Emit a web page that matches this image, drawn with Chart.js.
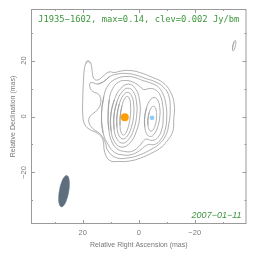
<!DOCTYPE html>
<html>
<head>
<meta charset="utf-8">
<script src="https://cdn.jsdelivr.net/npm/chart.js@4.4.1/dist/chart.umd.min.js"></script>
<style>
  html, body { margin: 0; padding: 0; background: #fff; }
  canvas { display: block; }
</style>
</head>
<body>
<canvas id="map" width="264" height="262"></canvas>
<script>
const sourceName = 'J1935\u22121602';
const peakFlux = '0.14';
const contourLevel = '0.002';
const obsDate = '2007\u221201\u221211';

const xRange = [-38.5, 38.5];
const yRange = [-38.4, 38.4];
const labelledTicks = [-20, 0, 20];

// contours as [RA offset, Dec offset] in mas, outermost first
const envelope1 = [
  [18.21, 19.82], [17.14, 18.93], [16.61, 16.07], [16.07, 13.57], [14.64, 13.04],
  [12.86, 14.29], [10.71, 15.89], [8.57, 15.71], [6.43, 16.25], [3.21, 16.43],
  [-0.36, 15.71], [-5.0, 13.93], [-8.57, 12.14], [-11.25, 8.93], [-12.68, 4.29],
  [-12.5, -1.07], [-12.14, -5.36], [-10.0, -8.93], [-7.5, -11.43], [-4.29, -13.21],
  [-0.71, -14.82], [3.21, -15.89], [7.14, -16.07], [10.36, -15.71], [12.14, -12.86],
  [12.86, -8.21], [14.64, -6.07], [17.5, -4.64], [19.29, -2.86], [20.0, 0.71],
  [20.0, 6.07], [19.82, 11.43], [19.46, 16.79], [18.93, 18.93]
];
const envelope2 = [
  [12.5, 12.5], [10.36, 14.29], [7.5, 15.18], [4.29, 15.36], [1.07, 14.82],
  [-2.5, 13.57], [-6.07, 12.32], [-8.93, 10.36], [-10.71, 7.5], [-11.25, 2.5],
  [-10.71, -2.86], [-9.64, -6.79], [-7.14, -10.0], [-4.29, -11.79], [-0.71, -13.57],
  [3.93, -14.82], [8.21, -14.64], [11.07, -12.14], [11.96, -9.29], [13.57, -6.43],
  [16.43, -4.29], [17.86, -1.79], [17.14, 0.36], [15.0, 2.14], [13.57, 5.0],
  [14.29, 7.86], [16.43, 8.93], [17.5, 10.71], [17.14, 12.14], [14.64, 11.61]
];
const bridge3 = [
  [13.32, 0], [12.5, 7.14], [10.71, 11.43], [7.86, 13.57], [4.64, 14.29],
  [1.43, 13.93], [-1.43, 12.86], [-4.29, 11.96], [-6.79, 10.71], [-8.57, 8.21],
  [-9.64, 4.64], [-10.0, 0], [-9.46, -4.64], [-7.86, -8.21], [-5.71, -10.0],
  [-3.57, -10.0], [-2.14, -10.71], [-0.36, -12.14], [2.5, -13.57], [5.36, -13.75],
  [8.57, -12.86], [10.71, -10.36], [12.68, -6.07]
];
const bridge4 = [
  [10.96, 0], [10.54, 6.07], [9.29, 10.0], [7.14, 12.32], [4.64, 12.86],
  [2.14, 12.32], [0, 11.07], [-1.79, 9.64], [-3.93, 10.0], [-6.07, 9.46],
  [-7.68, 7.5], [-8.57, 3.93], [-8.75, -0.36], [-8.21, -4.64], [-6.79, -7.5],
  [-4.82, -8.57], [-2.86, -8.04], [-1.79, -8.57], [-0.36, -10.36], [2.14, -12.32],
  [5.0, -12.5], [7.86, -11.43], [9.82, -8.57], [10.71, -4.64]
];
const core5 = [
  [10.0, 0.3], [8.74, 5.93], [6.43, 10.04], [3.68, 11.55], [1.23, 10.04], [-0.26, 5.93],
  [-0.4, 0.3], [0.86, -5.33], [3.17, -9.44], [5.93, -10.95], [8.37, -9.44], [9.86, -5.33]
];
const core6 = [
  [8.84, 0.3], [7.81, 5.21], [5.97, 8.8], [3.82, 10.12], [1.93, 8.8], [0.81, 5.21],
  [0.76, 0.3], [1.79, -4.61], [3.63, -8.2], [5.78, -9.52], [7.67, -8.2], [8.79, -4.61]
];
const core7 = [
  [7.76, 0.3], [6.94, 4.46], [5.56, 7.51], [3.97, 8.62], [2.6, 7.51], [1.82, 4.46],
  [1.84, 0.3], [2.66, -3.86], [4.04, -6.91], [5.63, -8.02], [7.0, -6.91], [7.78, -3.86]
];
const core8 = [
  [6.59, 0.3], [6.01, 3.75], [5.1, 6.27], [4.11, 7.19], [3.3, 6.27], [2.91, 3.75],
  [3.01, 0.3], [3.59, -3.15], [4.5, -5.67], [5.49, -6.59], [6.3, -5.67], [6.69, -3.15]
];
const jet5 = [
  [-2.14, -0.18], [-2.85, 3.3], [-4.08, 5.85], [-5.52, 6.78], [-6.76, 5.85], [-7.49, 3.3],
  [-7.5, -0.18], [-6.79, -3.66], [-5.56, -6.21], [-4.12, -7.14], [-2.88, -6.21], [-2.15, -3.66]
];
const jet6 = [
  [-3.32, -0.79], [-3.74, 1.44], [-4.46, 3.07], [-5.27, 3.67], [-5.96, 3.07], [-6.34, 1.44],
  [-6.32, -0.79], [-5.9, -3.02], [-5.18, -4.65], [-4.37, -5.25], [-3.68, -4.65], [-3.3, -3.02]
];
const isolatedBlob = [
  [-33.65, 25.3], [-34.05, 26.64], [-34.48, 27.2], [-34.69, 26.64],
  [-34.55, 25.3], [-34.15, 23.96], [-33.72, 23.4], [-33.51, 23.96]
];

// restoring beam outline (bmaj 11.3, bmin 3.3 mas, pa -10 deg)
const beamOutline = [
  [25.72, -21.13], [26.66, -21.74], [27.62, -23.67], [28.33, -26.41], [28.6, -29.23], [28.36, -31.38],
  [27.68, -32.27], [26.74, -31.66], [25.78, -29.73], [25.07, -26.99], [24.8, -24.17], [25.04, -22.02]
];

const corePosition = [5.0, -0.24];
const jetPosition = [-4.75, -0.46];

const contours = [envelope1, envelope2, bridge3, bridge4, core5, core6, core7, core8, jet5, jet6, isolatedBlob];

// repeat neighbours at both ends so the smoothed path closes without a corner
const closedLoop = (pts) => {
  const loop = [pts[pts.length - 1], ...pts, pts[0], pts[1]];
  return loop.map(([x, y]) => ({ x, y }));
};

const minus = (v) => (v < 0 ? '\u2212' + Math.abs(v) : String(v));

const datasets = contours.map((c) => ({
  data: closedLoop(c),
  showLine: true,
  tension: 0.45,
  borderColor: '#9b9b9b',
  borderWidth: 0.8,
  pointRadius: 0,
  fill: false,
  order: 2
}));

datasets.push({
  data: closedLoop(beamOutline),
  showLine: true,
  tension: 0.45,
  borderColor: '#5f6e7f',
  backgroundColor: '#5f6e7f',
  borderWidth: 0.6,
  pointRadius: 0,
  fill: 'shape',
  order: 1
});

datasets.push({
  data: [{ x: corePosition[0], y: corePosition[1] }],
  pointRadius: 4,
  pointBorderWidth: 0,
  pointBackgroundColor: '#ff9c00',
  order: 0
});

datasets.push({
  data: [{ x: jetPosition[0], y: jetPosition[1] }],
  pointRadius: 2.4,
  pointBorderWidth: 0,
  pointBackgroundColor: '#8ecdf6',
  order: 0
});

const frame = {
  id: 'frame',
  afterDraw(chart) {
    const { ctx, chartArea: a, scales: { x, y } } = chart;
    ctx.save();
    ctx.strokeStyle = '#9a9a9a';
    ctx.lineWidth = 1;
    ctx.strokeRect(a.left + 0.5, a.top + 0.5, a.right - a.left - 1, a.bottom - a.top - 1);

    ctx.beginPath();
    for (const t of x.ticks) {
      const len = labelledTicks.includes(t.value) ? 4 : 2;
      const px = Math.round(x.getPixelForValue(t.value)) + 0.5;
      ctx.moveTo(px, a.bottom); ctx.lineTo(px, a.bottom - len);
      ctx.moveTo(px, a.top); ctx.lineTo(px, a.top + len);
    }
    for (const t of y.ticks) {
      const len = labelledTicks.includes(t.value) ? 4 : 2;
      const py = Math.round(y.getPixelForValue(t.value)) + 0.5;
      ctx.moveTo(a.left, py); ctx.lineTo(a.left + len, py);
      ctx.moveTo(a.right, py); ctx.lineTo(a.right - len, py);
    }
    ctx.stroke();

    // rotated y tick labels
    ctx.fillStyle = '#7a7a7a';
    ctx.font = '7.5px "Liberation Sans"';
    ctx.textAlign = 'center';
    ctx.textBaseline = 'middle';
    for (const t of y.ticks) {
      if (!labelledTicks.includes(t.value)) continue;
      ctx.save();
      ctx.translate(a.left - 7, y.getPixelForValue(t.value));
      ctx.rotate(-Math.PI / 2);
      ctx.fillText(minus(t.value), 0, 0);
      ctx.restore();
    }

    ctx.fillStyle = '#3d963d';
    ctx.font = '8.8px "DejaVu Sans Mono"';
    ctx.fillText(`${sourceName}, max=${peakFlux}, clev=${contourLevel} Jy/bm`, (a.left + a.right) / 2, a.top + 11);
    ctx.font = 'italic 9px "Liberation Sans"';
    ctx.textAlign = 'right';
    ctx.fillText(obsDate, a.right - 5, a.bottom - 9);
    ctx.restore();
  }
};

const tickFont = { family: 'Liberation Sans', size: 7.5 };
const titleFont = { family: 'Liberation Sans', size: 7 };

new Chart(document.getElementById('map'), {
  type: 'scatter',
  data: { datasets },
  options: {
    responsive: false,
    animation: false,
    events: [],
    layout: { padding: { top: 9, right: 17.5, left: 0, bottom: 0 } },
    plugins: { legend: { display: false }, tooltip: { enabled: false } },
    scales: {
      x: {
        type: 'linear',
        reverse: true,
        min: xRange[0],
        max: xRange[1],
        afterFit: (s) => { s.height = 38; },
        grid: { display: false, drawTicks: false },
        border: { display: false },
        ticks: {
          stepSize: 10,
          includeBounds: false,
          autoSkip: false,
          maxRotation: 0,
          padding: 4,
          color: '#7a7a7a',
          font: tickFont,
          callback: (v) => (labelledTicks.includes(v) ? minus(v) : '')
        },
        title: {
          display: true,
          text: 'Relative Right Ascension (mas)',
          color: '#777',
          font: titleFont,
          padding: { top: 0, bottom: 12.8 }
        }
      },
      y: {
        type: 'linear',
        min: yRange[0],
        max: yRange[1],
        afterFit: (s) => { s.width = 31; },
        grid: { display: false, drawTicks: false },
        border: { display: false },
        ticks: { display: false, stepSize: 10, includeBounds: false },
        title: {
          display: true,
          text: 'Relative Declination (mas)',
          color: '#777',
          font: titleFont,
          padding: { top: 8.8, bottom: 0 }
        }
      }
    }
  },
  plugins: [frame]
});
</script>
</body>
</html>
